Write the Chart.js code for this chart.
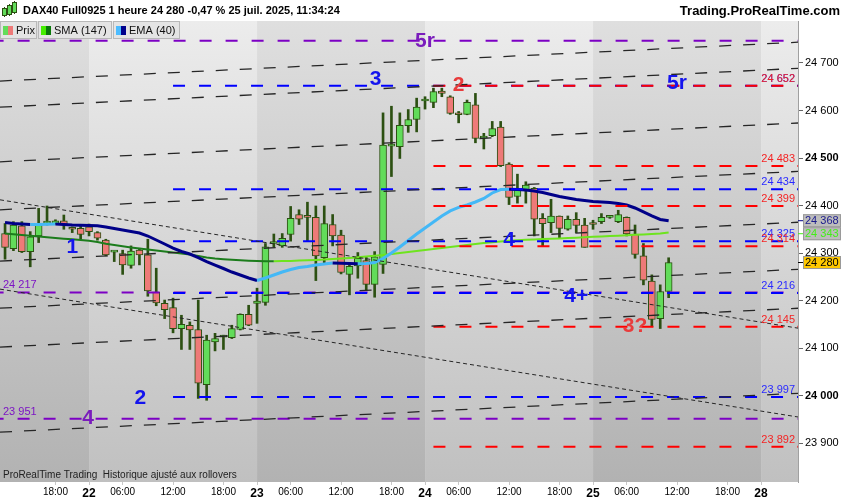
<!DOCTYPE html>
<html>
<head>
<meta charset="utf-8">
<title>DAX40 Full0925 1 heure</title>
<script src="https://cdn.jsdelivr.net/npm/chart.js@4.4.1/dist/chart.umd.min.js"></script>
<style>
  html, body { margin: 0; padding: 0; background: #fff; }
  canvas { display: block; }
</style>
</head>
<body>
<canvas id="chart" width="850" height="500"></canvas>
<script>
/* DAX40 hourly candles with SMA(147), EMA(40), horizontal levels and channel lines.
 * x axis = bar index (20 hourly bars per trading day, weekend skipped).
 */

const FIRST_BAR = 10; // bar index of the first visible candle (21 juil. 12:00)

// OHLC, one entry per hourly candle
const opens = [
  24341, 24309, 24357, 24303, 24336, 24363, 24362, 24368, 24351, 24352,
  24355, 24343, 24327, 24302, 24299, 24274, 24306, 24296, 24218, 24194,
  24185, 24141, 24148, 24139, 24023, 24113, 24123, 24122, 24139, 24171,
  24194, 24196, 24320, 24315, 24339, 24381, 24377, 24375, 24290, 24360,
  24338, 24255, 24273, 24284, 24234, 24276, 24525, 24524, 24568, 24581,
  24620, 24617, 24641, 24629, 24592, 24592, 24612, 24542, 24547, 24565,
  24487, 24419, 24433, 24436, 24373, 24364, 24378, 24350, 24371, 24359,
  24361, 24366, 24375, 24366, 24375, 24340, 24294, 24241, 24162, 24219,
];
const highs = [
  24362, 24366, 24366, 24345, 24394, 24399, 24370, 24380, 24355, 24359,
  24361, 24345, 24329, 24304, 24306, 24315, 24310, 24329, 24268, 24201,
  24205, 24169, 24155, 24201, 24127, 24131, 24127, 24148, 24172, 24190,
  24226, 24320, 24340, 24341, 24398, 24391, 24407, 24399, 24399, 24381,
  24348, 24280, 24301, 24292, 24303, 24595, 24609, 24595, 24602, 24626,
  24629, 24647, 24647, 24631, 24598, 24622, 24636, 24552, 24577, 24577,
  24490, 24466, 24450, 24438, 24383, 24413, 24378, 24378, 24385, 24373,
  24369, 24383, 24379, 24390, 24376, 24359, 24320, 24254, 24233, 24290,
];
const lows = [
  24287, 24305, 24301, 24271, 24322, 24359, 24361, 24350, 24343, 24329,
  24336, 24327, 24294, 24282, 24255, 24268, 24275, 24209, 24189, 24162,
  24132, 24097, 24097, 23994, 23990, 24094, 24097, 24120, 24138, 24147,
  24152, 24190, 24313, 24312, 24325, 24360, 24324, 24242, 24276, 24315,
  24256, 24212, 24247, 24222, 24207, 24257, 24461, 24499, 24554, 24555,
  24603, 24606, 24629, 24592, 24574, 24591, 24532, 24519, 24545, 24482,
  24402, 24405, 24405, 24336, 24315, 24343, 24332, 24348, 24343, 24312,
  24350, 24362, 24373, 24364, 24336, 24289, 24233, 24145, 24141, 24206,
];
const closes = [
  24312, 24359, 24303, 24334, 24362, 24365, 24368, 24360, 24350, 24339,
  24345, 24331, 24296, 24303, 24275, 24304, 24296, 24220, 24195, 24181,
  24141, 24150, 24138, 24026, 24117, 24120, 24125, 24141, 24171, 24148,
  24199, 24313, 24324, 24331, 24373, 24371, 24375, 24294, 24362, 24336,
  24259, 24272, 24289, 24234, 24292, 24527, 24527, 24569, 24581, 24607,
  24621, 24640, 24636, 24594, 24591, 24617, 24541, 24545, 24562, 24484,
  24417, 24433, 24443, 24371, 24362, 24378, 24352, 24371, 24358, 24312,
  24360, 24375, 24379, 24381, 24340, 24297, 24243, 24160, 24219, 24280,
];

// moving averages, one value per candle
const sma147 = [
  24341.1, 24339.4, 24337.9, 24336.3, 24334.8, 24333.1, 24331.6, 24330.1, 24328.9, 24327.4,
  24325.9, 24323.2, 24319.6, 24316.9, 24314.2, 24311.6, 24309.5, 24307.4, 24305.3, 24303.2,
  24301.1, 24299.0, 24296.9, 24293.7, 24290.5, 24288.5, 24287.0, 24285.7, 24284.7, 24283.8,
  24283.2, 24282.8, 24282.6, 24283.0, 24283.4, 24284.0, 24284.7, 24285.3, 24286.2, 24287.2,
  24288.3, 24289.5, 24291.0, 24292.5, 24294.2, 24295.8, 24297.9, 24300.0, 24302.2, 24304.3,
  24306.4, 24308.5, 24310.6, 24312.7, 24314.8, 24316.9, 24319.0, 24321.1, 24322.8, 24324.3,
  24325.7, 24327.0, 24327.8, 24328.7, 24329.5, 24330.1, 24330.8, 24331.4, 24332.3, 24333.1,
  24334.0, 24334.8, 24335.6, 24336.5, 24337.5, 24338.4, 24339.2, 24340.0, 24340.9, 24343.0,
];
const ema40 = [
  24364.2, 24362.0, 24361.0, 24359.8, 24360.2, 24360.6, 24361.0, 24360.0, 24359.0, 24358.4,
  24358.0, 24357.3, 24354.8, 24351.6, 24348.5, 24345.3, 24342.1, 24335.8, 24327.4, 24319.0,
  24310.5, 24303.2, 24297.9, 24290.5, 24282.1, 24274.7, 24267.4, 24260.0, 24253.7, 24247.4,
  24242.2, 24247.4, 24253.7, 24260.0, 24265.3, 24269.5, 24271.6, 24274.7, 24276.9, 24279.0,
  24278.4, 24277.7, 24277.3, 24277.9, 24280.0, 24288.5, 24300.0, 24312.7, 24326.4, 24340.1,
  24352.7, 24365.3, 24378.1, 24388.6, 24396.0, 24401.1, 24407.4, 24414.8, 24426.4, 24433.7,
  24434.3, 24433.7, 24432.7, 24430.6, 24427.4, 24423.2, 24419.0, 24415.8, 24412.7, 24410.6,
  24408.5, 24407.4, 24406.4, 24404.2, 24401.1, 24394.8, 24386.4, 24378.0, 24370.6, 24368.0,
];

// axes
const X_MIN = 9.4;
const X_MAX = 104.4;
const Y_MIN = 23818;
const Y_MAX = 24788.4;
const DAY_START = [20, 40, 60, 80, 100];
const xTickIndex = [16, 20, 24, 30, 36, 40, 44, 50, 56, 60, 64, 70, 76, 80, 84, 90, 96, 100];
const xTickLabels = ['18:00', '22', '06:00', '12:00', '18:00', '23', '06:00', '12:00', '18:00',
  '24', '06:00', '12:00', '18:00', '25', '06:00', '12:00', '18:00', '28'];
const yTickValues = [23900, 24000, 24100, 24200, 24300, 24400, 24500, 24600, 24700];

// horizontal levels
const purpleLevels = [24747, 24217, 23951];
const blueLevels = [24652, 24434, 24325, 24216, 23997];
const redLevels = [24652, 24483, 24399, 24314, 24145, 23892];
const BLUE_FROM = 30; // bar index where the blue levels start
const RED_FROM = 61;  // bar index where the red levels start

// channel lines: price at the left edge and at the right edge
const channelLeft = [24662, 24607, 24492, 24391, 24283, 24184, 24102, 23923];
const channelRight = [24744, 24689, 24574, 24472, 24365, 24266, 24184, 24005];
const fineLeft = [24412, 24224];
const fineRight = [24141, 23954];

// hand-written wave labels
const noteText = ['5r', '3', '2', '5r', '1', '2', '4', '4', '4+', '3?'];
const noteIndex = [60, 54.1, 64, 90, 18, 26.1, 19.9, 70, 78, 85];
const notePrice = [24748, 24667, 24656, 24659, 24314, 23997, 23955, 24329, 24212, 24148];
const noteKind = ['purple', 'blue', 'red', 'blue', 'blue', 'blue', 'purple', 'blue', 'blue', 'red'];

const COLORS = {
  up: '#62dc5a',
  down: '#ee7a78',
  wick: '#2c5012',
  smaUp: '#6ee41e',
  smaDown: '#1c7c1c',
  emaUp: '#44b8f6',
  emaDown: '#000088',
  blue: '#0000ff',
  red: '#ff0000',
  purple: '#7c00c4',
  blueText: '#2a2aff',
  redText: '#f42424',
  purpleText: '#7c14c4',
  note: { blue: '#1414ee', red: '#e83c3c', purple: '#7a1cbc' },
};
const FONT = "'Liberation Sans', Arial, sans-serif";

const fmt = (v) => String(Math.round(v)).replace(/\B(?=(\d{3})+(?!\d))/g, ' ');
const barX = (k) => FIRST_BAR + k;

function levelDataset(levels, from, color, order) {
  return levels.map((v) => ({
    type: 'line',
    data: [{ x: from, y: v }, { x: X_MAX + 1, y: v }],
    borderColor: color,
    borderWidth: 2,
    borderDash: [12, 14],
    pointRadius: 0,
    order,
  }));
}

function channelDataset(left, right, dash, width) {
  return left.map((v, i) => ({
    type: 'line',
    data: [{ x: X_MIN, y: v }, { x: X_MAX + 0.3, y: right[i] }],
    borderColor: '#262626',
    borderWidth: width,
    borderDash: dash,
    pointRadius: 0,
    order: 1,
  }));
}

// plot background: vertical gradient, alternate days slightly lighter
const backgroundPlugin = {
  id: 'background',
  beforeDraw(chart) {
    const { ctx, chartArea: a, scales: { x } } = chart;
    ctx.save();
    ctx.fillStyle = '#fff';
    ctx.fillRect(0, 0, chart.width, chart.height);
    const edges = [x.min, ...DAY_START, x.max];
    for (let i = 0; i < edges.length - 1; i++) {
      const x0 = Math.max(a.left, x.getPixelForValue(edges[i]));
      const x1 = Math.min(a.right, x.getPixelForValue(edges[i + 1]));
      if (x1 <= x0) continue;
      const light = i % 2 === 1;
      const g = ctx.createLinearGradient(0, a.top, 0, a.bottom);
      g.addColorStop(0, light ? '#ececec' : '#dfdfdf');
      g.addColorStop(1, light ? '#c0c0c0' : '#b2b2b2');
      ctx.fillStyle = g;
      ctx.fillRect(x0, a.top, x1 - x0, a.bottom - a.top);
    }
    ctx.restore();
  },
};

// level values, wave labels, header, legend boxes and price badges
const overlayPlugin = {
  id: 'overlay',
  afterDatasetsDraw(chart) {
    const { ctx, chartArea: a, scales: { x, y } } = chart;
    ctx.save();
    ctx.font = `11px ${FONT}`;
    ctx.textBaseline = 'middle';

    ctx.textAlign = 'right';
    ctx.fillStyle = COLORS.blueText;
    blueLevels.forEach((v) => ctx.fillText(fmt(v), a.right - 3, y.getPixelForValue(v) - 7));
    ctx.fillStyle = COLORS.redText;
    redLevels.forEach((v) => ctx.fillText(fmt(v), a.right - 3, y.getPixelForValue(v) - 7));

    ctx.textAlign = 'left';
    ctx.fillStyle = COLORS.purpleText;
    purpleLevels.forEach((v) => ctx.fillText(fmt(v), a.left + 3, y.getPixelForValue(v) - 7));

    ctx.textAlign = 'center';
    ctx.font = `bold 21px ${FONT}`;
    noteText.forEach((t, i) => {
      ctx.fillStyle = COLORS.note[noteKind[i]];
      ctx.fillText(t, x.getPixelForValue(noteIndex[i]), y.getPixelForValue(notePrice[i]) + 1);
    });

    // footer text inside the plot
    ctx.textAlign = 'left';
    ctx.font = `10px ${FONT}`;
    ctx.fillStyle = '#222';
    ctx.fillText('ProRealTime Trading  Historique ajusté aux rollovers', 3, a.bottom - 7);
    ctx.restore();
  },
  afterDraw(chart) {
    const { ctx, chartArea: a, scales: { y } } = chart;
    ctx.save();

    // header
    ctx.fillStyle = '#fff';
    ctx.fillRect(0, 0, chart.width, a.top);
    [[3, 9, 6], [8, 6, 8], [13, 3, 9]].forEach(([cx, top, h]) => {
      ctx.fillStyle = '#2c5012';
      ctx.fillRect(cx + 1, top - 2, 1, h + 4);
      ctx.fillStyle = COLORS.up;
      ctx.fillRect(cx, top, 3, h);
      ctx.strokeStyle = '#2c5012';
      ctx.lineWidth = 1;
      ctx.strokeRect(cx - 0.5, top - 0.5, 4, h + 1);
    });
    ctx.fillStyle = '#000';
    ctx.textBaseline = 'middle';
    ctx.textAlign = 'left';
    ctx.font = `bold 11px ${FONT}`;
    ctx.fillText('DAX40 Full0925 1 heure 24 280 -0,47 % 25 juil. 2025, 11:34:24', 23, 11);
    ctx.textAlign = 'right';
    ctx.font = `bold 13px ${FONT}`;
    ctx.fillText('Trading.ProRealTime.com', 840, 11);

    // legend boxes
    const boxes = [
      { x: 0, w: 37, label: 'Prix', c1: COLORS.up, c2: COLORS.down },
      { x: 38, w: 74, label: 'SMA (147)', c1: '#44ee00', c2: '#0a780a' },
      { x: 113, w: 67, label: 'EMA (40)', c1: '#4cbcff', c2: '#00008c' },
    ];
    ctx.font = `11px ${FONT}`;
    ctx.textAlign = 'left';
    boxes.forEach((b) => {
      ctx.fillStyle = '#e4e4e4';
      ctx.fillRect(b.x, a.top, b.w, 18);
      ctx.strokeStyle = '#b8b8b8';
      ctx.lineWidth = 1;
      ctx.strokeRect(b.x + 0.5, a.top + 0.5, b.w - 1, 17);
      ctx.fillStyle = b.c1;
      ctx.fillRect(b.x + 3, a.top + 5, 5, 9);
      ctx.fillStyle = b.c2;
      ctx.fillRect(b.x + 8, a.top + 5, 5, 9);
      ctx.fillStyle = '#111';
      ctx.fillText(b.label, b.x + 16, a.top + 10);
    });

    // price badges on the right axis
    const last = closes.length - 1;
    const emaY = y.getPixelForValue(ema40[last]);
    const smaY = Math.max(y.getPixelForValue(sma147[last]), emaY + 13);
    const badges = [
      { yy: emaY, text: fmt(ema40[last]), bg: '#bdbdbd', fg: '#1a1a8c', tick: COLORS.emaDown },
      { yy: smaY, text: fmt(sma147[last]), bg: '#bdbdbd', fg: '#44ee1a', tick: '#44ee1a' },
      { yy: y.getPixelForValue(closes[last]), text: fmt(closes[last]), bg: '#ffc800', fg: '#000', tick: '#000' },
    ];
    badges.forEach((b) => {
      ctx.fillStyle = b.bg;
      ctx.fillRect(a.right + 5, b.yy - 6.5, 38, 13);
      ctx.strokeStyle = '#9a9a9a';
      ctx.strokeRect(a.right + 5.5, b.yy - 6, 37, 12);
      ctx.strokeStyle = b.tick;
      ctx.beginPath();
      ctx.moveTo(a.right, b.yy);
      ctx.lineTo(a.right + 5, b.yy);
      ctx.stroke();
      ctx.fillStyle = b.fg;
      ctx.fillText(b.text, a.right + 7, b.yy + 0.5);
    });
    ctx.restore();
  },
};

const wickData = lows.map((l, k) => ({ x: barX(k), y: [l, highs[k]] }));
const bodyData = opens.map((o, k) => ({ x: barX(k), y: [o, closes[k]] }));
const smaData = sma147.map((v, k) => ({ x: barX(k), y: v }));
const emaData = ema40.map((v, k) => ({ x: barX(k), y: v }));

const datasets = [
  {
    type: 'bar',
    data: wickData,
    backgroundColor: COLORS.wick,
    borderWidth: 0,
    barThickness: 2,
    grouped: false,
    order: 11,
  },
  {
    type: 'bar',
    data: bodyData,
    backgroundColor: (c) => (closes[c.dataIndex] >= opens[c.dataIndex] ? COLORS.up : COLORS.down),
    borderColor: COLORS.wick,
    borderWidth: 1,
    borderSkipped: false,
    barThickness: 7,
    minBarLength: 2,
    grouped: false,
    order: 10,
  },
  {
    type: 'line',
    data: smaData,
    borderWidth: 2,
    pointRadius: 0,
    segment: { borderColor: (c) => (c.p1.parsed.y >= c.p0.parsed.y ? COLORS.smaUp : COLORS.smaDown) },
    order: 6,
  },
  {
    type: 'line',
    data: emaData,
    borderWidth: 3,
    pointRadius: 0,
    segment: { borderColor: (c) => (c.p1.parsed.y >= c.p0.parsed.y ? COLORS.emaUp : COLORS.emaDown) },
    order: 5,
  },
  ...levelDataset(purpleLevels, X_MIN - 1, COLORS.purple, 4),
  ...levelDataset(blueLevels, BLUE_FROM, COLORS.blue, 3),
  ...levelDataset(redLevels, RED_FROM, COLORS.red, 2),
  ...channelDataset(channelLeft, channelRight, [12, 12], 1.3),
  ...channelDataset(fineLeft, fineRight, [4, 3], 1),
];

new Chart(document.getElementById('chart'), {
  type: 'bar',
  data: { datasets },
  plugins: [backgroundPlugin, overlayPlugin],
  options: {
    responsive: false,
    animation: false,
    layout: { padding: { top: 21, left: 0, right: 0, bottom: 0 } },
    plugins: { legend: { display: false }, tooltip: { enabled: false } },
    scales: {
      x: {
        type: 'linear',
        offset: false,
        min: X_MIN,
        max: X_MAX,
        afterFit: (s) => { s.height = 18; },
        afterBuildTicks: (s) => { s.ticks = xTickIndex.map((v) => ({ value: v })); },
        border: { display: false },
        grid: { offset: false, drawOnChartArea: false, tickLength: 3, color: '#c8c8c8' },
        ticks: {
          autoSkip: false,
          maxRotation: 0,
          padding: 1,
          color: '#000',
          callback: (v, i) => xTickLabels[i],
          font: (c) => (/^\d\d$/.test(xTickLabels[c.index] || '')
            ? { family: FONT, size: 12, weight: 'bold' }
            : { family: FONT, size: 10 }),
        },
      },
      y: {
        position: 'right',
        min: Y_MIN,
        max: Y_MAX,
        afterFit: (s) => { s.width = 52; },
        afterBuildTicks: (s) => { s.ticks = yTickValues.map((v) => ({ value: v })); },
        border: { display: true, color: '#a0a0a0' },
        grid: { drawOnChartArea: false, tickLength: 5, color: '#666' },
        ticks: {
          padding: 2,
          color: '#000',
          callback: (v) => fmt(v),
          font: (c) => ({ family: FONT, size: 11, weight: c.tick && c.tick.value % 500 === 0 ? 'bold' : 'normal' }),
        },
      },
    },
  },
});
</script>
</body>
</html>
